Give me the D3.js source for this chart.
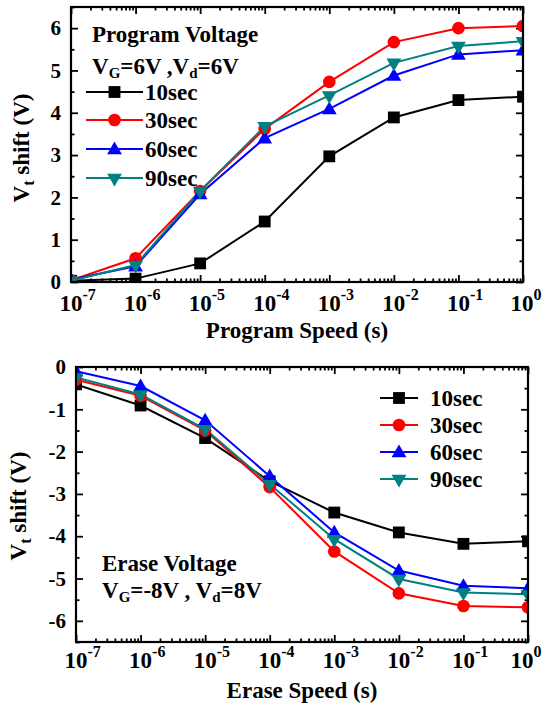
<!DOCTYPE html>
<html>
<head>
<meta charset="utf-8">
<script src="https://cdn.jsdelivr.net/npm/d3@7"></script>
<style>
  html, body { margin: 0; padding: 0; background: #fff; }
  svg { display: block; }
</style>
</head>
<body>
<svg id="chart" width="543" height="706"></svg>
<script>
// ---------------- DATA ----------------
const speeds = [1e-7, 1e-6, 1e-5, 1e-4, 1e-3, 1e-2, 1e-1, 1];
const seriesNames = ["10sec", "30sec", "60sec", "90sec"];
const seriesColors = ["#000000", "#ff0000", "#0000ff", "#008080"];
const seriesSymbols = ["square", "circle", "triangle", "triangleDown"];

const prog10 = [0.03, 0.08, 0.44, 1.43, 2.97, 3.89, 4.30, 4.38];
const prog30 = [0.04, 0.56, 2.15, 3.62, 4.73, 5.67, 6.00, 6.05];
const prog60 = [0.06, 0.37, 2.08, 3.40, 4.09, 4.88, 5.38, 5.48];
const prog90 = [0.03, 0.40, 2.15, 3.68, 4.41, 5.18, 5.58, 5.69];

const erase10 = [-0.41, -0.91, -1.68, -2.70, -3.44, -3.91, -4.18, -4.12];
const erase30 = [-0.30, -0.68, -1.50, -2.84, -4.36, -5.35, -5.65, -5.68];
const erase60 = [-0.10, -0.45, -1.26, -2.58, -3.91, -4.81, -5.17, -5.23];
const erase90 = [-0.25, -0.65, -1.47, -2.77, -4.07, -5.01, -5.33, -5.37];

const xExponents = [-7, -6, -5, -4, -3, -2, -1, 0];
const progYTicks = [0, 1, 2, 3, 4, 5, 6];
const eraseYTicks = [0, -1, -2, -3, -4, -5, -6];

// ---------------- DRAW ----------------
const FONT = "'Liberation Serif', 'Times New Roman', serif";
const W = 543;
const svg = d3.select("#chart");

function symbolPath(kind) {
  if (kind === "square") return d3.symbol().type(d3.symbolSquare).size(140)();
  if (kind === "circle") return d3.symbol().type(d3.symbolCircle).size(125)();
  return d3.symbol().type(d3.symbolTriangle).size(95)();
}
function symbolTransform(kind, x, y) {
  if (kind === "triangleDown") return `translate(${x},${y}) rotate(180)`;
  if (kind === "triangle") return `translate(${x},${y + 1})`;
  return `translate(${x},${y})`;
}

function drawPanel(cfg) {
  const g = svg.append("g");
  const x = d3.scaleLog().domain([1e-7, 1]).range([cfg.x0, cfg.x1]);
  const y = d3.scaleLinear().domain(cfg.yDomain).range([cfg.y1, cfg.y0]);

  const majorX = xExponents.map(e => Math.pow(10, e));
  const minorX = [];
  xExponents.slice(0, -1).forEach(e => {
    for (let j = 2; j <= 9; j++) minorX.push(j * Math.pow(10, e));
  });
  const minorY = [];
  for (let v = cfg.yDomain[0]; v <= cfg.yDomain[1] + 1e-9; v += 0.5) {
    if (Math.abs(v - Math.round(v)) > 1e-6) minorY.push(v);
  }

  const styleAxis = sel => {
    sel.select(".domain").remove();
    sel.selectAll("line").attr("stroke", "#000").attr("stroke-width", 1.8);
  };

  // x axes (bottom & top), inward ticks
  g.append("g").attr("transform", `translate(0,${cfg.y1})`)
    .call(d3.axisBottom(x).tickValues(majorX).tickSize(-7).tickFormat("")).call(styleAxis);
  g.append("g").attr("transform", `translate(0,${cfg.y1})`)
    .call(d3.axisBottom(x).tickValues(minorX).tickSize(-3.5).tickFormat("")).call(styleAxis);
  g.append("g").attr("transform", `translate(0,${cfg.y0})`)
    .call(d3.axisTop(x).tickValues(majorX).tickSize(-7).tickFormat("")).call(styleAxis);
  g.append("g").attr("transform", `translate(0,${cfg.y0})`)
    .call(d3.axisTop(x).tickValues(minorX).tickSize(-3.5).tickFormat("")).call(styleAxis);

  // y axes (left & right)
  const yl = g.append("g").attr("transform", `translate(${cfg.x0},0)`)
    .call(d3.axisLeft(y).tickValues(cfg.yTicks).tickSize(-7).tickPadding(cfg.yPad)
      .tickFormat(d => String(d)));
  styleAxis(yl);
  yl.selectAll("text").attr("font-family", FONT).attr("font-weight", "bold")
    .attr("font-size", 21).attr("fill", "#000");
  g.append("g").attr("transform", `translate(${cfg.x0},0)`)
    .call(d3.axisLeft(y).tickValues(minorY).tickSize(-3.5).tickFormat("")).call(styleAxis);
  g.append("g").attr("transform", `translate(${cfg.x1},0)`)
    .call(d3.axisRight(y).tickValues(cfg.yTicks).tickSize(-7).tickFormat("")).call(styleAxis);
  g.append("g").attr("transform", `translate(${cfg.x1},0)`)
    .call(d3.axisRight(y).tickValues(minorY).tickSize(-3.5).tickFormat("")).call(styleAxis);

  // x tick labels 10^n
  xExponents.forEach(e => {
    let px = x(Math.pow(10, e));
    const supW = String(e).length * 8.5;
    if (px + 11.5 + supW > W - 1) px = W - 1 - 11.5 - supW; // keep label inside page
    g.append("text").attr("x", px).attr("y", cfg.xLabelY)
      .attr("text-anchor", "middle").attr("font-family", FONT).attr("font-weight", "bold")
      .attr("font-size", 23).text("10");
    g.append("text").attr("x", px + 11.5).attr("y", cfg.xLabelY - 11)
      .attr("font-family", FONT).attr("font-weight", "bold")
      .attr("font-size", 16).text(String(e));
  });

  // clip
  const clipId = "clip" + cfg.id;
  svg.append("clipPath").attr("id", clipId).append("rect")
    .attr("x", cfg.x0).attr("y", cfg.y0).attr("width", cfg.x1 - cfg.x0).attr("height", cfg.y1 - cfg.y0);
  const plot = g.append("g").attr("clip-path", `url(#${clipId})`);

  const line = d3.line().x(d => x(d[0])).y(d => y(d[1]));
  cfg.series.forEach((vals, i) => {
    const pts = speeds.map((s, k) => [s, vals[k]]);
    plot.append("path").datum(pts).attr("d", line).attr("fill", "none")
      .attr("stroke", seriesColors[i]).attr("stroke-width", 2);
  });
  cfg.series.forEach((vals, i) => {
    const pts = speeds.map((s, k) => [s, vals[k]]);
    plot.selectAll(null).data(pts).enter().append("path")
      .attr("d", symbolPath(seriesSymbols[i]))
      .attr("transform", d => symbolTransform(seriesSymbols[i], x(d[0]), y(d[1])))
      .attr("fill", seriesColors[i]);
  });

  // frame
  g.append("rect").attr("x", cfg.x0).attr("y", cfg.y0)
    .attr("width", cfg.x1 - cfg.x0).attr("height", cfg.y1 - cfg.y0)
    .attr("fill", "none").attr("stroke", "#000").attr("stroke-width", 2.2);

  // legend
  seriesNames.forEach((name, i) => {
    const ly = cfg.legend.ys[i];
    g.append("line").attr("x1", cfg.legend.lx0).attr("x2", cfg.legend.lx1)
      .attr("y1", ly).attr("y2", ly).attr("stroke", seriesColors[i]).attr("stroke-width", 2);
    g.append("path").attr("d", symbolPath(seriesSymbols[i]))
      .attr("transform", symbolTransform(seriesSymbols[i], (cfg.legend.lx0 + cfg.legend.lx1) / 2, ly))
      .attr("fill", seriesColors[i]);
    g.append("text").attr("x", cfg.legend.tx).attr("y", ly + 8)
      .attr("font-family", FONT).attr("font-weight", "bold").attr("font-size", 23).text(name);
  });

  // x title
  g.append("text").attr("x", (cfg.x0 + cfg.x1) / 2).attr("y", cfg.xTitleY)
    .attr("text-anchor", "middle").attr("font-family", FONT).attr("font-weight", "bold")
    .attr("font-size", 23).text(cfg.xTitle);

  // y title
  const yt = g.append("text")
    .attr("transform", `translate(${cfg.yTitleX},${cfg.yTitleCY}) rotate(-90)`)
    .attr("text-anchor", "middle").attr("font-family", FONT).attr("font-weight", "bold")
    .attr("font-size", 23);
  yt.append("tspan").text("V");
  yt.append("tspan").attr("font-size", 16).attr("dy", 5).text("t");
  yt.append("tspan").attr("dy", -5).text(" shift (V)");

  // annotation
  g.append("text").attr("x", cfg.note.x).attr("y", cfg.note.y1)
    .attr("font-family", FONT).attr("font-weight", "bold").attr("font-size", 23).text(cfg.note.title);
  const a2 = g.append("text").attr("x", cfg.note.x).attr("y", cfg.note.y2)
    .attr("font-family", FONT).attr("font-weight", "bold").attr("font-size", 23);
  cfg.note.parts.forEach(p => {
    const t = a2.append("tspan").text(p.t);
    if (p.sub) t.attr("font-size", 15).attr("dy", 4);
    else if (p.after) t.attr("dy", -4);
  });
}

drawPanel({
  id: "top", x0: 71, x1: 523, y0: 7, y1: 282, yDomain: [0, 6.5],
  yTicks: progYTicks, yPad: 10,
  series: [prog10, prog30, prog60, prog90],
  xLabelY: 311, xTitleY: 338, xTitle: "Program Speed (s)",
  yTitleX: 29, yTitleCY: 148,
  legend: { lx0: 86, lx1: 143, tx: 145, ys: [92, 120, 149, 178] },
  note: { x: 92, y1: 42, y2: 74, title: "Program Voltage",
    parts: [{t: "V"}, {t: "G", sub: true}, {t: "=6V ,V", after: true}, {t: "d", sub: true}, {t: "=6V", after: true}] }
});

drawPanel({
  id: "bot", x0: 76, x1: 528, y0: 367, y1: 642, yDomain: [-6.5, 0],
  yTicks: eraseYTicks, yPad: 10,
  series: [erase10, erase30, erase60, erase90],
  xLabelY: 668, xTitleY: 698, xTitle: "Erase Speed (s)",
  yTitleX: 26, yTitleCY: 506,
  legend: { lx0: 380, lx1: 418, tx: 430, ys: [398, 425, 452, 479] },
  note: { x: 102, y1: 571, y2: 598, title: "Erase Voltage",
    parts: [{t: "V"}, {t: "G", sub: true}, {t: "=-8V , V", after: true}, {t: "d", sub: true}, {t: "=8V", after: true}] }
});
</script>
</body>
</html>
